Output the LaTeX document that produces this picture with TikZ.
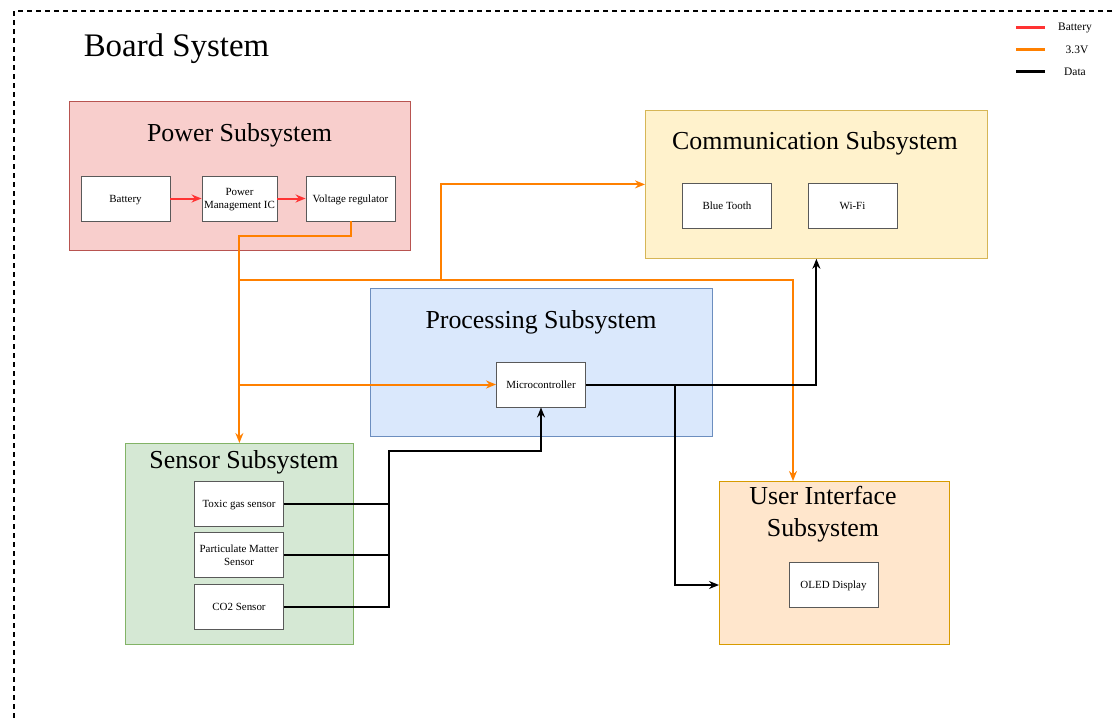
\documentclass[tikz,border=0pt]{standalone}
\usepackage{fontspec}
\setmainfont{Liberation Serif}
\usetikzlibrary{positioning}
\usetikzlibrary{arrows.meta}
\pgfdeclarelayer{background}
\pgfsetlayers{background,main}

\definecolor{pwrfill}{HTML}{F8CECC}\definecolor{pwrdraw}{HTML}{B85450}
\definecolor{comfill}{HTML}{FFF2CC}\definecolor{comdraw}{HTML}{D6B656}
\definecolor{procfill}{HTML}{DAE8FC}\definecolor{procdraw}{HTML}{6C8EBF}
\definecolor{senfill}{HTML}{D5E8D4}\definecolor{sendraw}{HTML}{82B366}
\definecolor{uifill}{HTML}{FFE6CC}\definecolor{uidraw}{HTML}{D79B00}
\definecolor{batred}{HTML}{FF3333}
\definecolor{pwrorange}{HTML}{FF8000}

\begin{document}
\begin{tikzpicture}[x=1bp,y=-1bp,
					groupbox/.style={rectangle, line width=0.8bp, anchor=north west, inner sep=0pt},
					partbox/.style={rectangle, draw=black!65, line width=0.9bp, fill=white, minimum width=89bp, minimum height=45bp, align=center, font=\fontsize{11}{12.5}\selectfont, inner sep=1pt, text depth=0pt},
					grouptitle/.style={font=\fontsize{26}{32}\selectfont, align=center},
					batline/.style={draw=batred, line width=2bp, -{Stealth[length=10bp,width=8bp]}},
					pwrline/.style={draw=pwrorange, line width=2bp, -{Stealth[length=10bp,width=8bp]}},
					dataline/.style={draw=black, line width=2bp, -{Stealth[length=10bp,width=8bp]}},
					legendtext/.style={black, font=\fontsize{11.5}{13}\selectfont},
					]
					\useasboundingbox (0,0) rectangle (1115,722);
					%Frame
					\draw[line width=1.5bp, dash pattern=on 5bp off 4bp] (1130,11) -- (14,11) -- (14,740);
					\node[font=\fontsize{33}{38}\selectfont] (title) at (176.5,49) {Board System};
					
					%Legend
					\draw[batred, line width=3bp] (1016,28) -- (1045,28) node[legendtext] (lbat) at (1075,28) {Battery};
					\draw[pwrorange, line width=3bp] (1016,50) -- (1045,50) node[legendtext] (lpwr) at (1077,50) {3.3V};
					\draw[black, line width=3bp] (1016,72) -- (1045,72) node[legendtext] (ldata) at (1075,72) {Data};
					
					\begin{pgfonlayer}{background}
					%Subsystems
					\node[groupbox, fill=pwrfill, draw=pwrdraw, minimum width=341bp, minimum height=149bp] (power) at (69,101) {};
					\node[groupbox, fill=comfill, draw=comdraw, minimum width=342bp, minimum height=148bp] (comm) at (645,110) {};
					\node[groupbox, fill=procfill, draw=procdraw, minimum width=342bp, minimum height=148bp] (proc) at (370,288) {};
					\node[groupbox, fill=senfill, draw=sendraw, minimum width=228bp, minimum height=201bp] (sensor) at (125,443) {};
					\node[groupbox, fill=uifill, draw=uidraw, minimum width=230bp, minimum height=163bp] (ui) at (719,481) {};
					\end{pgfonlayer}
					
					\node[grouptitle] (powertitle) at (239.5,135) {Power Subsystem};
					\node[grouptitle] (commtitle) at (815,143) {Communication Subsystem};
					\node[grouptitle] (proctitle) at (541,322) {Processing Subsystem};
					\node[grouptitle] (sensortitle) at (244,462) {Sensor Subsystem};
					\node[grouptitle] (uititle) at (823,514) {User Interface\\Subsystem};
					
					%Parts
					\node[partbox] (battery) at (125.5,198.5) {Battery};
					\node[partbox, minimum width=75bp] (pmic) at (239.5,198.5) {Power\\Management IC};
					\node[partbox] (vreg) at (350.5,198.5) {Voltage regulator};
					\node[partbox] (bt) at (727,206) {Blue Tooth};
					\node[partbox] (wifi) at (852.5,206) {Wi-Fi};
					\node[partbox] (mcu) at (541,384.5) {Microcontroller};
					\node[partbox] (toxic) at (239,503.5) {Toxic gas sensor};
					\node[partbox] (pm) at (239,555) {Particulate Matter\\Sensor};
					\node[partbox] (co2) at (239,607) {CO2 Sensor};
					\node[partbox] (oled) at (833.5,584.5) {OLED Display};
					
					%Junctions
					\coordinate (jtop) at (239,280);
					\coordinate (jcomm) at (441,280);
					\coordinate (juiup) at (793,280);
					\coordinate (juidn) at (793,481);
					\coordinate (jmcu) at (239,384.5);
					\coordinate (bus) at (389,451);
					\coordinate (dsplit) at (675,384.5);
					\coordinate (uiin) at (719,585);
					
					%Lines
					\draw[batline] (battery) -- (pmic);
					\draw[batline] (pmic) -- (vreg);
					
					\draw[pwrline] (vreg.south) -- ++(0,15) -| (sensor.north);
					\draw[pwrline] (jtop) -- (juiup) -- (juidn);
					\draw[pwrline] (jcomm) |- (comm.west);
					\draw[pwrline] (jmcu) -- (mcu.west);
					
					\draw[dataline,-] (toxic.east) -- (toxic.east -| bus);
					\draw[dataline,-] (pm.east) -- (pm.east -| bus);
					\draw[dataline] (co2.east) -| (bus) -| (mcu.south);
					\draw[dataline] (mcu.east) -| (comm.south);
					\draw[dataline] (dsplit) |- (uiin);
				\end{tikzpicture}
\end{document}
